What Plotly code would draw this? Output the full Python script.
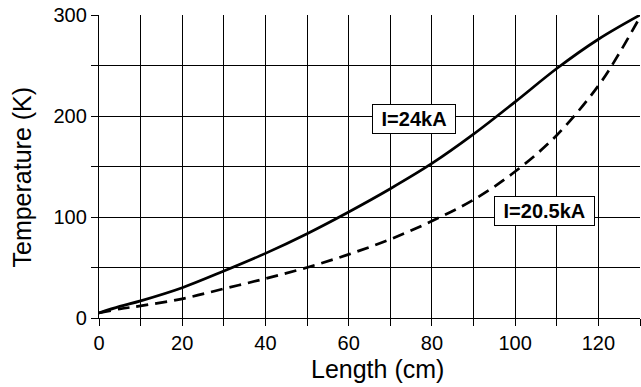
import plotly.graph_objects as go

length_24kA = [0, 5, 10, 20, 30, 40, 50, 60, 70, 80, 90, 100, 110, 120, 130]
temp_24kA = [5, 11.5, 17, 30, 46.5, 64, 83.5, 105, 128, 153, 182, 214, 247, 276, 300]
length_20_5kA = [0, 5, 10, 20, 30, 40, 50, 60, 70, 80, 90, 100, 110, 120, 125, 130]
temp_20_5kA = [5, 9, 12, 19, 29, 39, 50, 63, 78, 96, 117, 145, 181, 230, 262, 298]

x_ticks = list(range(0, 131, 10))
x_labels = [str(v) if v % 20 == 0 else "" for v in x_ticks]
y_ticks = [0, 50, 100, 150, 200, 250, 300]
y_labels = [str(v) if v % 100 == 0 else "" for v in y_ticks]

FONT = "Liberation Sans, Arial, sans-serif"

fig = go.Figure()
fig.add_trace(go.Scatter(x=length_24kA, y=temp_24kA, mode="lines",
                         line=dict(color="black", width=2.7, shape="spline"), name="I=24kA"))
fig.add_trace(go.Scatter(x=length_20_5kA, y=temp_20_5kA, mode="lines",
                         line=dict(color="black", width=2.7, dash="12px,7px", shape="spline"), name="I=20.5kA"))

box = dict(bgcolor="white", bordercolor="black", borderwidth=1, borderpad=3, showarrow=False,
           font=dict(family=FONT, size=20, color="black"))
fig.add_annotation(x=75.8, y=197, text="&nbsp;<b>I=24kA</b>&nbsp;", **box)
fig.add_annotation(x=107, y=105.5, text="&nbsp;<b>I=20.5kA</b>&nbsp;", **box)

# axis titles
fig.add_annotation(xref="paper", yref="paper", x=-0.1423, y=0.4637, text="Temperature (K)",
                   textangle=-90, showarrow=False, xanchor="center", yanchor="middle",
                   font=dict(family=FONT, size=25, color="black"))
fig.add_annotation(xref="paper", yref="paper", x=0.5157, y=-0.168, text="Length (cm)",
                   showarrow=False, xanchor="center", yanchor="middle",
                   font=dict(family=FONT, size=25, color="black"))

axis_common = dict(showgrid=True, gridcolor="black", gridwidth=1.3, showline=True, linecolor="black",
                   linewidth=1.3, ticks="outside", ticklen=7, tickwidth=1.3, tickcolor="black",
                   zeroline=False, automargin=False,
                   tickfont=dict(family=FONT, size=20, color="black"))
fig.update_layout(
    width=641, height=387, showlegend=False,
    paper_bgcolor="white", plot_bgcolor="white",
    margin=dict(l=99, r=1, t=15, b=69),
    xaxis=dict(range=[0, 130], tickvals=x_ticks, ticktext=x_labels, **axis_common),
    yaxis=dict(range=[0, 300], tickvals=y_ticks, ticktext=y_labels, **axis_common),
)
fig.write_html("out.html")
